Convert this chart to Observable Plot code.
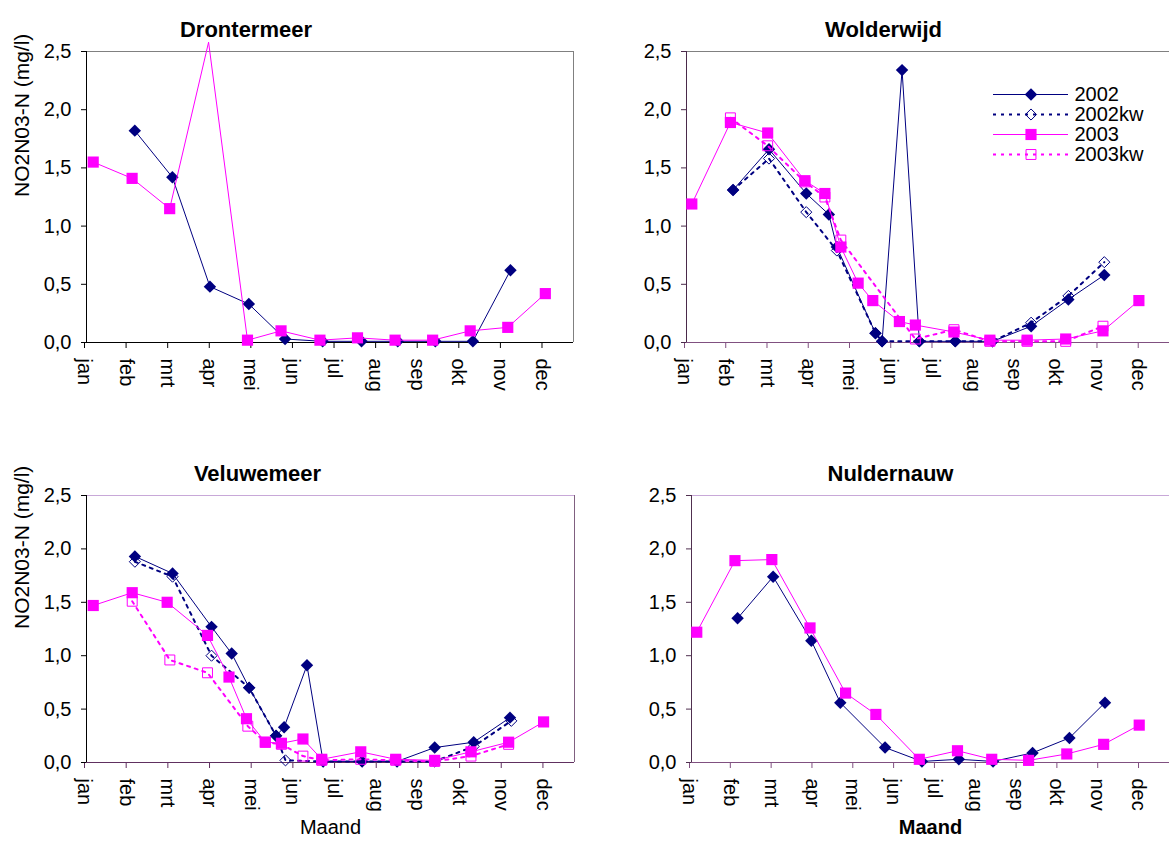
<!DOCTYPE html>
<html><head><meta charset="utf-8">
<script src="https://cdn.jsdelivr.net/npm/d3@7"></script>
<script src="https://cdn.jsdelivr.net/npm/@observablehq/plot@0.6"></script>
<style>
body{margin:0;background:#fff;}
#chart{position:relative;width:1169px;height:845px;overflow:hidden;background:#fff;font-family:"Liberation Sans",Arial,sans-serif;}
#chart svg{position:absolute;}
</style></head><body><div id="chart"></div>
<script>
// ---- axis / label data ----
const monthLabels = ["jan","feb","mrt","apr","mei","jun","jul","aug","sep","okt","nov","dec"];
const tickDays = [0,31,62,93,124,155,186,217,248,279,310,341];
const yTicks = [0,0.5,1,1.5,2,2.5];
const yLabel = "NO2N03-N (mg/l)";
const xLabel = "Maand";
const seriesNames = ["2002","2002kw","2003","2003kw"];

// ---- series values: [day of year, NO2NO3-N mg/l] ----
const dronter2002 = [[36,1.82],[64,1.42],[92,0.48],[121,0.33],[148,0.03],[176,0.01],[205,0.01],[232,0.01],[260,0.01],[288,0.01],[316,0.62]];
const dronter2003 = [[5,1.55],[34,1.41],[62,1.15],[91,2.58],[120,0.02],[145,0.10],[174,0.02],[202,0.04],[230,0.02],[258,0.02],[286,0.10],[314,0.13],[342,0.42]];

const wolder2002 = [[35,1.31],[62,1.66],[90,1.28],[107,1.10],[113,0.82],[142,0.08],[147,0.01],[162,2.34],[175,0.01],[202,0.01],[230,0.01],[259,0.14],[287,0.37],[314,0.58]];
const wolder2002kw = [[35,1.31],[62,1.58],[90,1.12],[113,0.79],[142,0.08],[147,0.01],[175,0.01],[202,0.01],[230,0.01],[259,0.17],[287,0.40],[314,0.69]];
const wolder2003 = [[4,1.19],[33,1.89],[61,1.80],[89,1.39],[104,1.28],[116,0.82],[129,0.51],[140,0.36],[160,0.18],[172,0.15],[201,0.09],[228,0.02],[256,0.02],[285,0.03],[313,0.10],[340,0.36]];
const wolder2003kw = [[33,1.93],[61,1.69],[89,1.38],[104,1.25],[116,0.88],[172,0.03],[201,0.11],[228,0.01],[256,0.01],[285,0.01],[313,0.14]];

const velu2002 = [[36,1.93],[64,1.77],[93,1.27],[108,1.02],[121,0.70],[141,0.25],[147,0.33],[164,0.91],[176,0.01],[205,0.01],[231,0.01],[259,0.14],[288,0.19],[315,0.42]];
const velu2002kw = [[36,1.88],[64,1.74],[93,1.00],[121,0.70],[141,0.25],[148,0.02],[176,0.01],[205,0.01],[231,0.01],[259,0.01],[288,0.15],[316,0.39]];
const velu2003 = [[5,1.47],[34,1.59],[60,1.50],[90,1.19],[106,0.80],[119,0.41],[133,0.19],[145,0.18],[161,0.22],[175,0.03],[204,0.10],[230,0.03],[259,0.02],[286,0.10],[314,0.19],[340,0.38]];
const velu2003kw = [[34,1.51],[62,0.96],[90,0.84],[120,0.34],[133,0.19],[145,0.17],[161,0.06],[175,0.02],[204,0.03],[230,0.02],[259,0.01],[286,0.06],[314,0.17]];

const nulder2002 = [[35,1.35],[62,1.74],[91,1.14],[113,0.56],[147,0.14],[175,0.01],[203,0.03],[229,0.01],[259,0.09],[287,0.23],[314,0.56]];
const nulder2003 = [[4,1.22],[33,1.89],[61,1.90],[90,1.26],[117,0.65],[140,0.45],[173,0.03],[202,0.11],[228,0.03],[256,0.02],[285,0.08],[313,0.17],[340,0.35]];

// ---- styles ----
const NAVY = "#000080", MAG = "#ff00ff";
const styles = {
  "2002":   {stroke: NAVY, width: 1, dash: null,  symbol: "diamond2", r: 5.6, fill: NAVY, dotStroke: "none"},
  "2002kw": {stroke: NAVY, width: 2, dash: "3,5", symbol: "diamond2", r: 5.0, fill: "none", dotStroke: NAVY},
  "2003":   {stroke: MAG,  width: 1, dash: null,  symbol: "square",   r: 6.3, fill: MAG, dotStroke: "none"},
  "2003kw": {stroke: MAG,  width: 2, dash: "3,5", symbol: "square",   r: 5.6, fill: "none", dotStroke: MAG}
};
const X_MAX = 363;
const fmtY = d => d.toFixed(1).replace(".", ",");

function seriesMarks(data, name) {
  const s = styles[name];
  return [
    Plot.line(data, {x: d => d[0], y: d => d[1], stroke: s.stroke, strokeWidth: s.width, strokeDasharray: s.dash}),
    Plot.dot(data, {x: d => d[0], y: d => d[1], filter: d => d[1] <= 2.5, symbol: s.symbol, r: s.r, fill: s.fill, stroke: s.dotStroke, strokeWidth: 1})
  ];
}

function panel(o) {
  const marks = [
    Plot.ruleY([2.5], {stroke: o.colors.top}),
    Plot.ruleX([X_MAX], {stroke: o.colors.right}),
    Plot.ruleX([0], {stroke: o.colors.left}),
    Plot.ruleY([0], {stroke: o.colors.bottom}),
    Plot.axisX({ticks: tickDays, tickFormat: d => monthLabels[tickDays.indexOf(d)], tickRotate: 90, tickSize: 6, tickPadding: 10, fontSize: 20, dx: -2, stroke: o.colors.bottom, label: null}),
    Plot.axisY({ticks: yTicks, tickFormat: fmtY, tickSize: 5, tickPadding: 10, fontSize: 20, stroke: o.colors.left, label: null}),
    ...o.series.flatMap(([data, name]) => seriesMarks(data, name)),
    Plot.text([o.title], {text: d => d, frameAnchor: "top", dx: o.titleDx, dy: -30, fontSize: 22, fontWeight: "bold"})
  ];
  if (o.showY) marks.push(Plot.text([yLabel], {text: d => d, frameAnchor: "left", dx: -64.5, rotate: -90, fontSize: 21}));
  if (o.showX) marks.push(Plot.text([xLabel], {text: d => d, frameAnchor: "bottom", dy: 71, fontSize: 20, fontWeight: o.xBold ? "bold" : "normal"}));
  const svg = Plot.plot({
    width: o.width, height: o.height,
    marginLeft: o.ml, marginRight: o.mr, marginTop: o.mt, marginBottom: o.mb,
    x: {type: "linear", domain: [0, X_MAX]},
    y: {domain: [0, 2.5]},
    style: {fontFamily: "Liberation Sans, Arial, sans-serif", fontSize: "20px", overflow: "visible", background: "transparent", color: "#000"},
    marks
  });
  svg.style.left = o.left + "px";
  svg.style.top = o.top + "px";
  document.getElementById("chart").appendChild(svg);
}

panel({title: "Drontermeer", titleDx: -84, left: 0, top: 0, width: 580, height: 420, ml: 86, mr: 7, mt: 51, mb: 78,
  showY: true, showX: false,
  colors: {left: "#000", bottom: "#000", top: "#808080", right: "#808080"},
  series: [[dronter2002, "2002"], [dronter2003, "2003"]]});

panel({title: "Wolderwijd", titleDx: -44.5, left: 580, top: 0, width: 589, height: 420, ml: 106, mr: 0, mt: 51, mb: 78,
  showY: false, showX: false,
  colors: {left: "#4a2a4a", bottom: "#805080", top: "#808080", right: "#808080"},
  series: [[wolder2002, "2002"], [wolder2002kw, "2002kw"], [wolder2003, "2003"], [wolder2003kw, "2003kw"]]});

panel({title: "Veluwemeer", titleDx: -73, left: 0, top: 420, width: 580, height: 425, ml: 86, mr: 6, mt: 75, mb: 83,
  showY: true, showX: true, xBold: false,
  colors: {left: "#000", bottom: "#603060", top: "#c8a8d8", right: "#806080"},
  series: [[velu2002, "2002"], [velu2002kw, "2002kw"], [velu2003, "2003"], [velu2003kw, "2003kw"]]});

panel({title: "Nuldernauw", titleDx: -40, left: 580, top: 420, width: 589, height: 425, ml: 111, mr: 0, mt: 75, mb: 83,
  showY: false, showX: true, xBold: true,
  colors: {left: "#503050", bottom: "#805080", top: "#c8a8d8", right: "#806080"},
  series: [[nulder2002, "2002"], [nulder2003, "2003"]]});

// ---- legend (Wolderwijd) ----
const legend = Plot.plot({
  width: 184, height: 110, margin: 0,
  x: {domain: [0, 1], range: [8, 83], axis: null},
  y: {type: "point", domain: seriesNames, range: [13, 94], axis: null},
  style: {fontFamily: "Liberation Sans, Arial, sans-serif", fontSize: "20px", overflow: "visible", background: "transparent", color: "#000"},
  marks: seriesNames.flatMap(name => {
    const s = styles[name];
    return [
      Plot.ruleY([name], {y: d => d, x1: 0, x2: 1, stroke: s.stroke, strokeWidth: s.width, strokeDasharray: s.dash}),
      Plot.dot([name], {y: d => d, x: 0.5, symbol: s.symbol, r: s.r, fill: s.fill, stroke: s.dotStroke, strokeWidth: 1}),
      Plot.text([name], {y: d => d, x: 1, text: d => d, dx: 6, textAnchor: "start", fontSize: 20})
    ];
  })
});
legend.style.left = "985px";
legend.style.top = "70px";
document.getElementById("chart").appendChild(legend);
</script>
</body></html>
